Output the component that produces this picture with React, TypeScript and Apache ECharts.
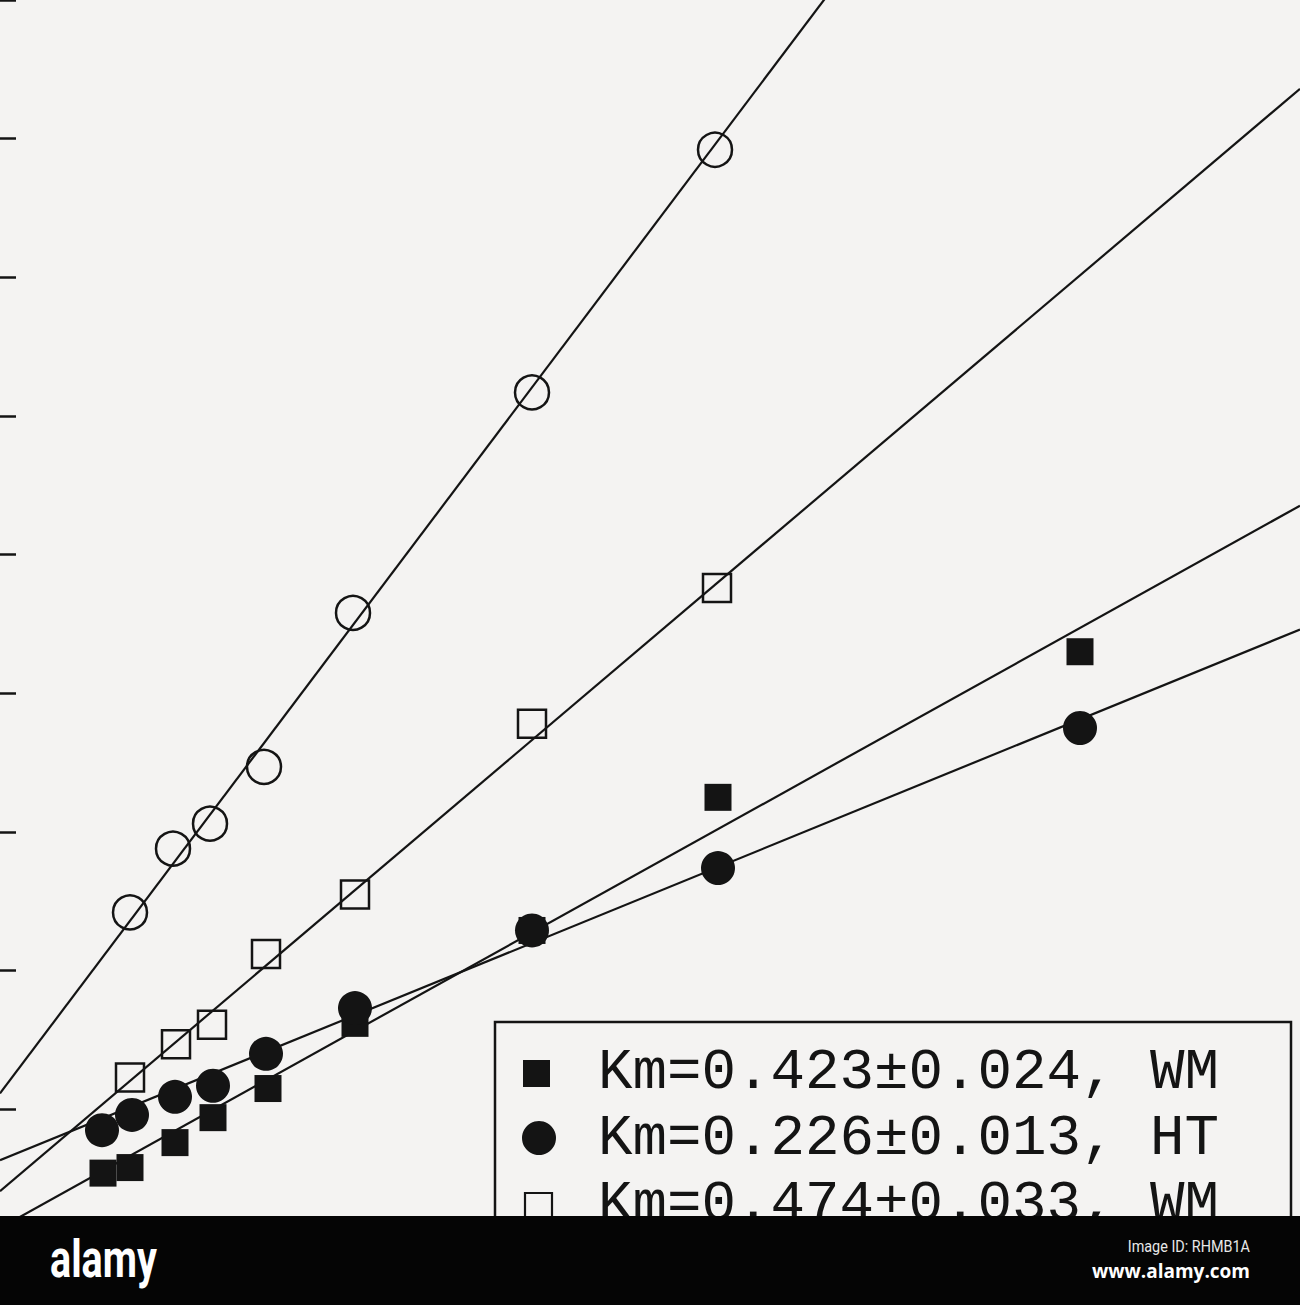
import React, { useEffect, useRef } from "react";
import * as echarts from "echarts";

// x: plot units (no visible x axis), y: one unit per tick mark on the left
const filledSquareX = [1.03, 1.30, 1.75, 2.13, 2.68, 3.55, 5.32, 7.18, 10.80];
const filledSquareY = [0.54, 0.58, 0.76, 0.94, 1.15, 1.62, 2.29, 3.25, 4.30];

const filledCircleX = [1.02, 1.32, 1.75, 2.13, 2.66, 3.55, 5.32, 7.18, 10.80];
const filledCircleY = [0.85, 0.96, 1.09, 1.17, 1.40, 1.73, 2.29, 2.74, 3.75];

const openSquareX = [1.30, 1.76, 2.12, 2.66, 3.55, 5.32, 7.17];
const openSquareY = [1.23, 1.47, 1.61, 2.12, 2.55, 3.78, 4.76];

const openCircleX = [1.30, 1.73, 2.10, 2.64, 3.53, 5.32, 7.15];
const openCircleY = [2.42, 2.88, 3.06, 3.47, 4.58, 6.17, 7.92];

// fitted lines: filled square, filled circle, open square, open circle
const fitIntercepts = [0.144, 0.633, 0.41, 1.115];
const fitSlopes = [0.4007, 0.2944, 0.6115, 0.957];

const legendLabels = [
  "Km=0.423±0.024, WM",
  "Km=0.226±0.013, HT",
  "Km=0.474±0.033, WM",
];

const yTicks = [0, 1, 2, 3, 4, 5, 6, 7, 8, 9];

const INK = "#141414";
const PAPER = "#f4f3f2";
const X_MIN = 0;
const X_MAX = 13;

const pairs = (xs: number[], ys: number[]) => xs.map((x, i) => [x, ys[i]]);

export default function App() {
  const chartRef = useRef<HTMLDivElement>(null);

  useEffect(() => {
    if (chartRef.current === null) return;
    const chart = echarts.init(chartRef.current, undefined, { renderer: "svg" });

    const fitLine = (i: number) => ({
      type: "line" as const,
      data: [
        [X_MIN, fitIntercepts[i] + fitSlopes[i] * X_MIN],
        [X_MAX, fitIntercepts[i] + fitSlopes[i] * X_MAX],
      ],
      showSymbol: false,
      symbol: "none",
      clip: true,
      lineStyle: { color: INK, width: 2.2 },
      z: 2,
      silent: true,
    });

    const filled = { color: INK, opacity: 1 };
    const hollow = {
      color: "rgba(0,0,0,0)",
      borderColor: INK,
      borderWidth: 2.5,
      opacity: 1,
    };

    const option: echarts.EChartsOption = {
      animation: false,
      backgroundColor: PAPER,
      grid: { left: 0, right: 0, top: -3, bottom: 57 },
      xAxis: {
        type: "value",
        min: X_MIN,
        max: X_MAX,
        show: false,
      },
      yAxis: {
        type: "value",
        min: yTicks[0],
        max: yTicks[yTicks.length - 1],
        interval: 1,
        axisLine: { show: false },
        axisTick: {
          show: true,
          inside: true,
          length: 16,
          lineStyle: { color: INK, width: 2.5 },
        },
        axisLabel: { show: false },
        splitLine: { show: false },
      },
      series: [
        fitLine(0),
        fitLine(1),
        fitLine(2),
        fitLine(3),
        {
          name: legendLabels[0],
          type: "scatter",
          data: pairs(filledSquareX, filledSquareY),
          symbol: "rect",
          symbolSize: 27,
          itemStyle: filled,
          z: 3,
        },
        {
          name: legendLabels[1],
          type: "scatter",
          data: pairs(filledCircleX, filledCircleY),
          symbol: "circle",
          symbolSize: 34,
          itemStyle: filled,
          z: 4,
        },
        {
          name: legendLabels[2],
          type: "scatter",
          data: pairs(openSquareX, openSquareY),
          symbol: "rect",
          symbolSize: 28,
          itemStyle: hollow,
          z: 3,
        },
        {
          name: "open circles",
          type: "scatter",
          data: pairs(openCircleX, openCircleY),
          symbol: "circle",
          symbolSize: 34,
          itemStyle: hollow,
          z: 3,
        },
      ],
      graphic: [
        // legend box
        {
          type: "rect",
          z: 20,
          shape: { x: 495, y: 1022, width: 796, height: 320 },
          style: { fill: PAPER, stroke: INK, lineWidth: 2.5 },
        },
        {
          type: "rect",
          z: 21,
          shape: { x: 523, y: 1060, width: 27, height: 27 },
          style: { fill: INK },
        },
        {
          type: "circle",
          z: 21,
          shape: { cx: 539, cy: 1138, r: 17 },
          style: { fill: INK },
        },
        {
          type: "rect",
          z: 21,
          shape: { x: 525, y: 1193, width: 27, height: 27 },
          style: { fill: "none", stroke: INK, lineWidth: 2.2 },
        },
        ...legendLabels.map((label, i) => ({
          type: "text" as const,
          z: 21,
          style: {
            text: label,
            x: 598,
            y: 1072 + i * 66,
            fill: INK,
            fontSize: 57.5,
            fontFamily: '"Liberation Mono", "Courier New", monospace',
            verticalAlign: "middle" as const,
          },
        })),
        // stock photo banner
        {
          type: "rect",
          z: 100,
          shape: { x: 0, y: 1216, width: 1300, height: 89 },
          style: { fill: "#050505" },
        },
        {
          type: "text",
          z: 101,
          x: 50,
          y: 1259,
          scaleX: 0.76,
          style: {
            text: "alamy",
            x: 0,
            y: 0,
            fill: "#ffffff",
            fontSize: 52,
            fontWeight: "bold",
            fontFamily: '"Roboto", sans-serif',
            verticalAlign: "middle",
          },
        },
        {
          type: "text",
          z: 101,
          x: 1250,
          y: 1247,
          scaleX: 0.9,
          style: {
            text: "Image ID: RHMB1A",
            x: 0,
            y: 0,
            fill: "#e8e8e8",
            fontSize: 16,
            fontFamily: '"Roboto", sans-serif',
            align: "right",
            verticalAlign: "middle",
          },
        },
        {
          type: "text",
          z: 101,
          style: {
            text: "www.alamy.com",
            x: 1250,
            y: 1271,
            fill: "#ffffff",
            fontSize: 19,
            fontWeight: "bold",
            fontFamily: '"Open Sans", "Roboto", sans-serif',
            align: "right",
            verticalAlign: "middle",
          },
        },
      ],
    };

    chart.setOption(option);

    return () => {
      chart.dispose();
    };
  }, []);

  return (
    <div
      ref={chartRef}
      style={{ position: "fixed", left: 0, top: 0, width: "1300px", height: "1305px" }}
    />
  );
}
